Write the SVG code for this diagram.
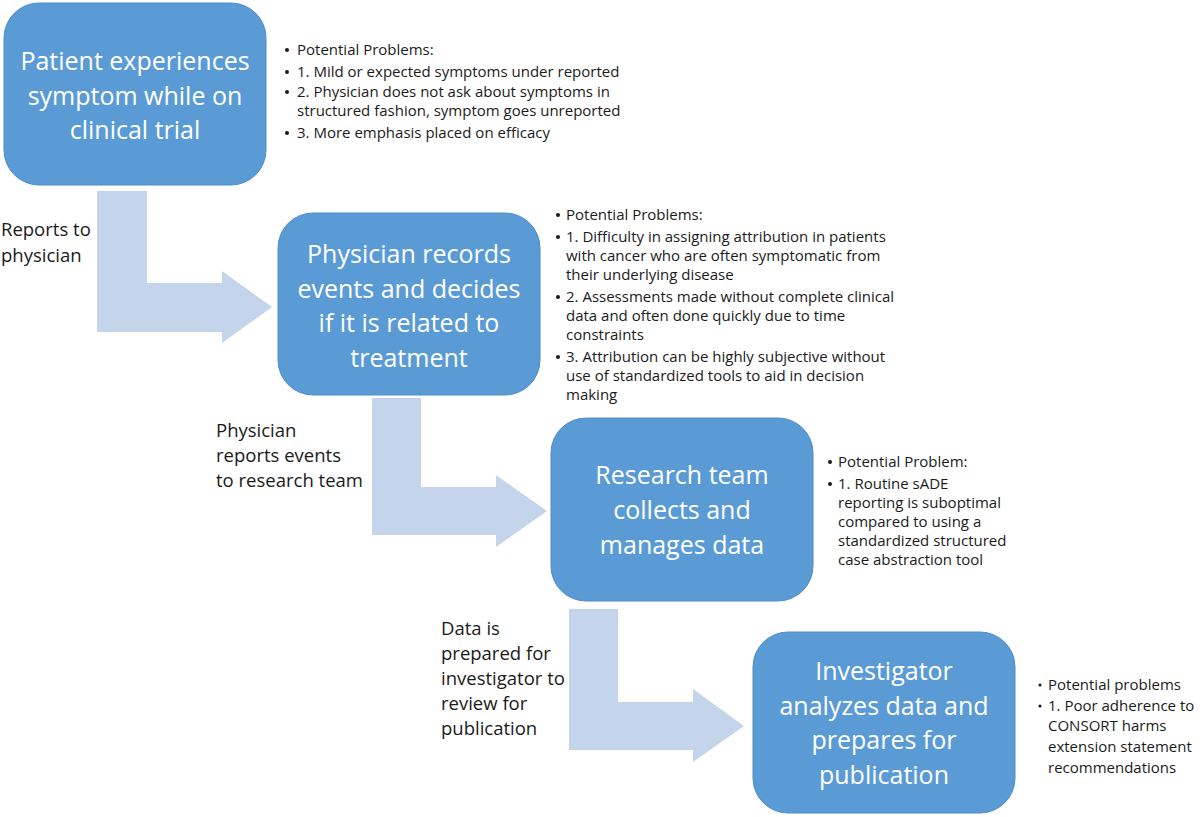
<svg xmlns="http://www.w3.org/2000/svg" width="1200" height="817" viewBox="0 0 1200 817">
<style>
.box{fill:#5b9bd5;stroke:#4f8cc6;stroke-width:1}
.bt{font-family:"Open Sans","Noto Sans",sans-serif;font-size:25px;fill:#ffffff;text-anchor:middle}
.arrow{fill:#c4d4ea}
.lbl{font-family:"Open Sans","Noto Sans",sans-serif;font-size:18.5px;fill:#1a1a1a}
.li{font-family:"Open Sans","Noto Sans",sans-serif;font-size:15px;fill:#1a1a1a}
.bu{fill:#1a1a1a}
</style>
<rect width="1200" height="817" fill="#ffffff"/>
<g id="connectors">
<path class="arrow" d="M97,191 H147 V283 H222 V271 L272,307 L222,343 V332 H97 Z"/>
<path class="arrow" d="M372,398 H421 V487 H496 V475 L547,511 L496,547 V535 H372 Z"/>
<path class="arrow" d="M569,609 H618 V702 H693 V689 L744,726 L693,762 V750 H569 Z"/>
<text class="lbl" x="1" y="236">Reports to</text>
<text class="lbl" x="1" y="262">physician</text>
<text class="lbl" x="216" y="437">Physician</text>
<text class="lbl" x="216" y="462">reports events</text>
<text class="lbl" x="216" y="487">to research team</text>
<text class="lbl" x="441" y="635">Data is</text>
<text class="lbl" x="441" y="660">prepared for</text>
<text class="lbl" x="441" y="685">investigator to</text>
<text class="lbl" x="441" y="710">review for</text>
<text class="lbl" x="441" y="735">publication</text>
</g>
<g id="node1">
<rect class="box" x="4" y="3" width="262" height="182" rx="35"/>
<text class="bt" x="135" y="70">Patient experiences</text>
<text class="bt" x="135" y="105">symptom while on</text>
<text class="bt" x="135" y="139">clinical trial</text>
</g>
<g id="notes1">
<circle class="bu" cx="287" cy="50" r="2"/>
<text class="li" x="297" y="55">Potential Problems:</text>
<circle class="bu" cx="287" cy="72" r="2"/>
<text class="li" x="297" y="77">1. Mild or expected symptoms under reported</text>
<circle class="bu" cx="287" cy="92" r="2"/>
<text class="li" x="297" y="97">2. Physician does not ask about symptoms in</text>
<text class="li" x="297" y="116">structured fashion, symptom goes unreported</text>
<circle class="bu" cx="287" cy="133" r="2"/>
<text class="li" x="297" y="138">3. More emphasis placed on efficacy</text>
</g>
<g id="node2">
<rect class="box" x="278" y="213" width="262" height="182" rx="35"/>
<text class="bt" x="409" y="263">Physician records</text>
<text class="bt" x="409" y="298">events and decides</text>
<text class="bt" x="409" y="332">if it is related to</text>
<text class="bt" x="409" y="367">treatment</text>
</g>
<g id="notes2">
<circle class="bu" cx="558" cy="215" r="2"/>
<text class="li" x="566" y="220">Potential Problems:</text>
<circle class="bu" cx="558" cy="237" r="2"/>
<text class="li" x="566" y="242">1. Difficulty in assigning attribution in patients</text>
<text class="li" x="566" y="261">with cancer who are often symptomatic from</text>
<text class="li" x="566" y="280">their underlying disease</text>
<circle class="bu" cx="558" cy="297" r="2"/>
<text class="li" x="566" y="302">2. Assessments made without complete clinical</text>
<text class="li" x="566" y="321">data and often done quickly due to time</text>
<text class="li" x="566" y="340">constraints</text>
<circle class="bu" cx="558" cy="357" r="2"/>
<text class="li" x="566" y="362">3. Attribution can be highly subjective without</text>
<text class="li" x="566" y="381">use of standardized tools to aid in decision</text>
<text class="li" x="566" y="400">making</text>
</g>
<g id="node3">
<rect class="box" x="551" y="418" width="262" height="183" rx="35"/>
<text class="bt" x="682" y="484">Research team</text>
<text class="bt" x="682" y="519">collects and</text>
<text class="bt" x="682" y="554">manages data</text>
</g>
<g id="notes3">
<circle class="bu" cx="830" cy="462" r="2"/>
<text class="li" x="838" y="467">Potential Problem:</text>
<circle class="bu" cx="830" cy="484" r="2"/>
<text class="li" x="838" y="489">1. Routine sADE</text>
<text class="li" x="838" y="508">reporting is suboptimal</text>
<text class="li" x="838" y="527">compared to using a</text>
<text class="li" x="838" y="546">standardized structured</text>
<text class="li" x="838" y="565">case abstraction tool</text>
</g>
<g id="node4">
<rect class="box" x="753" y="632" width="262" height="181" rx="35"/>
<text class="bt" x="884" y="680">Investigator</text>
<text class="bt" x="884" y="715">analyzes data and</text>
<text class="bt" x="884" y="749">prepares for</text>
<text class="bt" x="884" y="784">publication</text>
</g>
<g id="notes4">
<circle class="bu" cx="1040" cy="685" r="1.6"/>
<text class="li" x="1048" y="690">Potential problems</text>
<circle class="bu" cx="1040" cy="706" r="1.6"/>
<text class="li" x="1048" y="711">1. Poor adherence to</text>
<text class="li" x="1048" y="731">CONSORT harms</text>
<text class="li" x="1048" y="752">extension statement</text>
<text class="li" x="1048" y="773">recommendations</text>
</g>
</svg>
